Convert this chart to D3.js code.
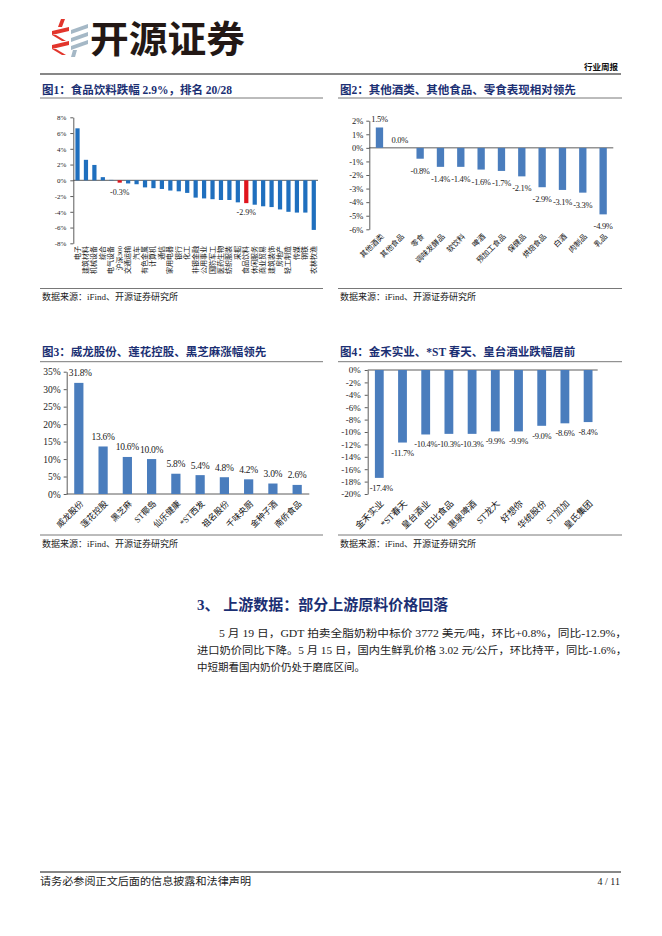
<!DOCTYPE html>
<html>
<head>
<meta charset="utf-8">
<script src="https://d3js.org/d3.v7.min.js"></script>
<style>
  body { margin: 0; background: #fff; }
  svg { display: block; }
  text { font-family: "Liberation Serif", "Noto Sans CJK SC", serif; }
</style>
</head>
<body>
<script>
// ---- data ----
const fig1Industries = ["电子", "建筑材料", "机械设备", "综合", "电气设备", "沪深300", "交通运输", "汽车",
  "有色金属", "计算机", "通信", "家用电器", "银行", "化工", "非银金融", "公用事业", "国防军工", "医药生物",
  "纺织服装", "采掘", "食品饮料", "休闲服务", "商业贸易", "建筑装饰", "房地产", "轻工制造", "传媒", "钢铁", "农林牧渔"];
const fig1Change = [6.6, 2.6, 1.95, 0.4, 0.05, -0.3, -0.4, -0.5, -0.9, -1.0, -1.1, -1.3, -1.4, -1.6,
  -2.2, -2.3, -2.4, -2.5, -2.5, -2.8, -2.9, -3.1, -3.3, -3.4, -3.7, -4.0, -4.1, -4.1, -6.3];
const fig1Highlight = ["沪深300", "食品饮料"];
const fig1Ticks = [8, 6, 4, 2, 0, -2, -4, -6, -8];

const fig2Categories = ["其他酒类", "其他食品", "零食", "调味发酵品", "软饮料", "啤酒", "预加工食品",
  "保健品", "烘焙食品", "白酒", "肉制品", "乳品"];
const fig2Change = [1.5, 0.0, -0.8, -1.4, -1.4, -1.6, -1.7, -2.1, -2.9, -3.1, -3.3, -4.9];
const fig2Ticks = [2, 1, 0, -1, -2, -3, -4, -5, -6];

const fig3Stocks = ["威龙股份", "莲花控股", "黑芝麻", "ST椰岛", "仙乐健康", "*ST西发", "祖名股份",
  "千味央厨", "金种子酒", "南侨食品"];
const fig3Change = [31.8, 13.6, 10.6, 10.0, 5.8, 5.4, 4.8, 4.2, 3.0, 2.6];
const fig3Ticks = [0, 5, 10, 15, 20, 25, 30, 35];

const fig4Stocks = ["金禾实业", "*ST春天", "皇台酒业", "巴比食品", "惠泉啤酒", "ST龙大", "好想你",
  "华统股份", "ST加加", "皇氏集团"];
const fig4Change = [-17.4, -11.7, -10.4, -10.3, -10.3, -9.9, -9.9, -9.0, -8.6, -8.4];
const fig4Ticks = [0, -2, -4, -6, -8, -10, -12, -14, -16, -18, -20];

const titles = [
  "图1：食品饮料跌幅 2.9%，排名 20/28",
  "图2：其他酒类、其他食品、零食表现相对领先",
  "图3：威龙股份、莲花控股、黑芝麻涨幅领先",
  "图4：金禾实业、*ST 春天、皇台酒业跌幅居前"
];
const sourceText = "数据来源：iFind、开源证券研究所";
const sectionTitle = "3、 上游数据：部分上游原料价格回落";
const bodyLines = [
  "5 月 19 日，GDT 拍卖全脂奶粉中标价 3772 美元/吨，环比+0.8%，同比-12.9%，",
  "进口奶价同比下降。5 月 15 日，国内生鲜乳价格 3.02 元/公斤，环比持平，同比-1.6%，",
  "中短期看国内奶价仍处于磨底区间。"
];

const W = 662, H = 936;
const navy = "#1b2f73", barBlue = "#4a7dbd", barBlue1 = "#1f6fbe", barRed = "#e0141c";

let svg = d3.select("body").append("svg")
  .attr("width", W).attr("height", H)
  .attr("viewBox", "0 0 " + W + " " + H);
svg.append("rect").attr("width", W).attr("height", H).attr("fill", "#fff");

// ---- page header ----
let logo = svg.append("g");
// red zig-zag strokes
logo.append("path").attr("fill", "#e2352c").attr("d", "M61,19L65,19L62,27L58,27Z");
logo.append("path").attr("fill", "#e2352c").attr("d", "M52,31L69,27L69,31L52,35Z");
logo.append("path").attr("fill", "#e2352c").attr("d", "M52,35L56,35L66,41L62,41Z");
logo.append("path").attr("fill", "#e2352c").attr("d", "M52,45L69,41L69,45L52,49Z");
logo.append("path").attr("fill", "#e2352c").attr("d", "M52,49L56,49L66,55L62,55Z");
// gray stripes
[[71, 30], [71, 38], [71, 46]].forEach(p => {
  logo.append("path").attr("fill", "#a5b8c6")
    .attr("d", `M${p[0]},${p[1]}L${p[0] + 17},${p[1] - 6}L${p[0] + 17},${p[1] - 2}L${p[0]},${p[1] + 4}Z`);
});
logo.append("path").attr("fill", "#a5b8c6").attr("d", "M73,50L77,50L75,57L71,57Z");

svg.append("text").attr("x", 90).attr("y", 53)
  .attr("font-size", 37).attr("font-weight", 700).attr("fill", "#231815")
  .style("font-family", "'Noto Sans CJK SC'")
  .attr("textLength", 155).attr("lengthAdjust", "spacingAndGlyphs")
  .text("开源证券");
svg.append("text").attr("x", 618).attr("y", 70).attr("text-anchor", "end")
  .attr("font-size", 8.5).attr("font-weight", 700).attr("fill", "#111")
  .text("行业周报");
svg.append("line").attr("x1", 40).attr("x2", 621).attr("y1", 74).attr("y2", 74)
  .attr("stroke", "#111").attr("stroke-width", 1.2);

// ---- panel frames ----
function panel(x0, x1, titleY, lineY, srcLineY, srcY, title) {
  svg.append("text").attr("x", x0 + 2).attr("y", titleY)
    .attr("font-size", 11.5).attr("font-weight", 700).attr("fill", navy)
    .text(title);
  svg.append("line").attr("x1", x0).attr("x2", x1).attr("y1", lineY).attr("y2", lineY)
    .attr("stroke", "#555").attr("stroke-width", 0.8);
  svg.append("line").attr("x1", x0).attr("x2", x1).attr("y1", srcLineY).attr("y2", srcLineY)
    .attr("stroke", "#555").attr("stroke-width", 0.8);
  svg.append("text").attr("x", x0 + 2).attr("y", srcY)
    .attr("font-size", 9).attr("fill", "#222")
    .text(sourceText);
}
panel(40, 323, 94, 98, 288.5, 300, titles[0]);
panel(338, 622, 94, 98, 288.5, 300, titles[1]);
panel(40, 323, 356, 361.7, 535, 547, titles[2]);
panel(338, 622, 356, 361.7, 535, 547, titles[3]);

// ---- shared helpers ----
function drawYAxis(y, xPos, ticks, fontSize, pad) {
  let g = svg.append("g").attr("transform", `translate(${xPos},0)`)
    .call(d3.axisLeft(y).tickValues(ticks).tickFormat(d => d + "%")
      .tickSize(3).tickSizeOuter(0).tickPadding(pad));
  g.select(".domain").attr("stroke", "#333").attr("stroke-width", 0.8);
  g.selectAll(".tick line").attr("stroke", "#333").attr("stroke-width", 0.8);
  g.selectAll(".tick text").attr("font-size", fontSize).attr("fill", "#222")
    .style("font-family", "'Liberation Serif'");
  return g;
}

function drawBars(cats, vals, x, y, color, labelFont, posOff, negOff, catFont, catDy, catDx) {
  let g = svg.append("g");
  const axisX = x.range()[0];
  g.selectAll("rect").data(cats).enter().append("rect")
    .attr("x", d => x(d))
    .attr("width", x.bandwidth())
    .attr("y", (d, i) => y(Math.max(0, vals[i])))
    .attr("height", (d, i) => Math.abs(y(vals[i]) - y(0)))
    .attr("fill", color);
  g.selectAll("text.val").data(cats).enter().append("text")
    .attr("class", "val")
    .attr("x", d => x(d) + x.bandwidth() / 2)
    .attr("y", (d, i) => vals[i] >= 0 ? y(vals[i]) - posOff : y(vals[i]) + negOff)
    .attr("text-anchor", "middle")
    .attr("font-size", labelFont).attr("fill", "#222")
    .attr("letter-spacing", -0.3)
    .style("font-family", "'Liberation Serif'")
    .text((d, i) => vals[i].toFixed(1) + "%")
    .each(function () {
      // keep a label clear of the value axis, as the original does
      const half = this.getComputedTextLength() / 2;
      const cx = +this.getAttribute("x");
      if (cx - half < axisX + 2) this.setAttribute("x", axisX + 2 + half);
    });
  const yBottom = y.range()[0];
  g.selectAll("text.cat").data(cats).enter().append("text")
    .attr("class", "cat")
    .attr("text-anchor", "end")
    .attr("dominant-baseline", "central")
    .attr("font-size", catFont).attr("fill", "#111")
    .attr("transform", d => `translate(${x(d) + x.bandwidth() / 2 + catDx},${yBottom + catDy}) rotate(-45)`)
    .text(d => d);
  return g;
}

// ---- figure 1 ----
{
  const x = d3.scaleBand().domain(fig1Industries).range([73.3, 318]).paddingInner(0.5).paddingOuter(0.25);
  const y = d3.scaleLinear().domain([-8, 8]).range([243.3, 117.3]);
  drawYAxis(y, 73.3, fig1Ticks, 7, 4);
  svg.append("line").attr("x1", 73.3).attr("x2", 318).attr("y1", y(0)).attr("y2", y(0))
    .attr("stroke", "#333").attr("stroke-width", 0.8);
  svg.append("g").selectAll("rect").data(fig1Industries).enter().append("rect")
    .attr("x", d => x(d))
    .attr("width", x.bandwidth())
    .attr("y", (d, i) => y(Math.max(0, fig1Change[i])))
    .attr("height", (d, i) => Math.abs(y(fig1Change[i]) - y(0)))
    .attr("fill", d => fig1Highlight.includes(d) ? barRed : barBlue1);
  svg.append("g").selectAll("text").data(fig1Highlight).enter().append("text")
    .attr("x", d => x(d) + x.bandwidth() / 2)
    .attr("y", d => y(fig1Change[fig1Industries.indexOf(d)]) + 12)
    .attr("text-anchor", "middle").attr("font-size", 8).attr("fill", "#222")
    .style("font-family", "'Liberation Serif'")
    .text(d => fig1Change[fig1Industries.indexOf(d)].toFixed(1) + "%");
  svg.append("g").selectAll("text").data(fig1Industries).enter().append("text")
    .attr("text-anchor", "end")
    .attr("dominant-baseline", "central")
    .attr("font-size", 7).attr("fill", "#111")
    .attr("transform", d => `translate(${x(d) + x.bandwidth() / 2},${246}) rotate(-90)`)
    .text(d => d);
}

// ---- figure 2 ----
{
  const x = d3.scaleBand().domain(fig2Categories).range([369.3, 613.3]).paddingInner(0.64).paddingOuter(0.32);
  const y = d3.scaleLinear().domain([-6, 2]).range([229.3, 120.7]);
  drawYAxis(y, 369.3, fig2Ticks, 8.5, 3);
  svg.append("line").attr("x1", 369.3).attr("x2", 613.3).attr("y1", y(0)).attr("y2", y(0))
    .attr("stroke", "#333").attr("stroke-width", 0.8);
  drawBars(fig2Categories, fig2Change, x, y, barBlue, 8.5, 5, 15, 7.5, 6, 3);
}

// ---- figure 3 ----
{
  const x = d3.scaleBand().domain(fig3Stocks).range([66.7, 309.3]).paddingInner(0.62).paddingOuter(0.31);
  const y = d3.scaleLinear().domain([0, 35]).range([494, 371.7]);
  drawYAxis(y, 66.7, fig3Ticks, 9.5, 3);
  svg.append("line").attr("x1", 66.7).attr("x2", 309.3).attr("y1", y(0)).attr("y2", y(0))
    .attr("stroke", "#333").attr("stroke-width", 0.8);
  drawBars(fig3Stocks, fig3Change, x, y, barBlue, 9.5, 6.5, 0, 8.5, 8, 3);
}

// ---- figure 4 ----
{
  const x = d3.scaleBand().domain(fig4Stocks).range([367.7, 599.7]).paddingInner(0.62).paddingOuter(0.31);
  const y = d3.scaleLinear().domain([-20, 0]).range([494, 370]);
  drawYAxis(y, 367.7, fig4Ticks, 9, 4);
  svg.append("line").attr("x1", 367.7).attr("x2", 597.7).attr("y1", y(0)).attr("y2", y(0))
    .attr("stroke", "#333").attr("stroke-width", 0.8);
  drawBars(fig4Stocks, fig4Change, x, y, barBlue, 8.5, 0, 13, 9, 8, 3);
}

// ---- section text ----
svg.append("text").attr("x", 197).attr("y", 609.5)
  .attr("font-size", 15).attr("font-weight", 700).attr("fill", navy)
  .text(sectionTitle);
const bodyX = [219, 197, 197], bodyLen = [408, 430, null];
bodyLines.forEach((t, i) => {
  let tx = svg.append("text").attr("x", bodyX[i]).attr("y", 637 + i * 17)
    .attr("font-size", 10.5).attr("fill", "#222").text(t);
  if (bodyLen[i]) tx.attr("textLength", bodyLen[i]).attr("lengthAdjust", "spacingAndGlyphs");
});

// ---- footer ----
svg.append("line").attr("x1", 40).attr("x2", 621).attr("y1", 872).attr("y2", 872)
  .attr("stroke", "#111").attr("stroke-width", 1.2);
svg.append("text").attr("x", 40).attr("y", 885).attr("font-size", 10).attr("fill", "#222")
  .attr("textLength", 211).attr("lengthAdjust", "spacingAndGlyphs")
  .text("请务必参阅正文后面的信息披露和法律声明");
svg.append("text").attr("x", 620).attr("y", 885).attr("text-anchor", "end")
  .attr("font-size", 10).attr("fill", "#222").text("4 / 11");
</script>
</body>
</html>
